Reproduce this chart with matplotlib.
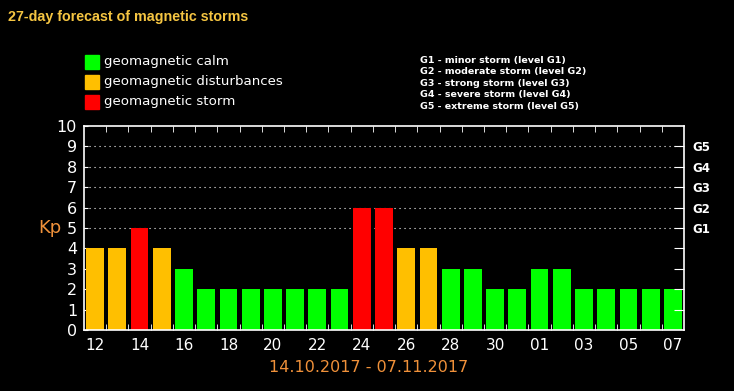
import matplotlib.pyplot as plt

# 27-day Kp forecast, 12.10 - 07.11
days = ["12", "13", "14", "15", "16", "17", "18", "19", "20", "21", "22", "23", "24", "25",
        "26", "27", "28", "29", "30", "31", "01", "02", "03", "04", "05", "06", "07"]
kp = [4, 4, 5, 4, 3, 2, 2, 2, 2, 2, 2, 2, 6, 6, 4, 4, 3, 3, 2, 2, 3, 3, 2, 2, 2, 2, 2]
g_levels = [5, 6, 7, 8, 9]
g_labels = ["G1", "G2", "G3", "G4", "G5"]
legend_labels = ["geomagnetic calm", "geomagnetic disturbances", "geomagnetic storm"]
g_text = ["G1 - minor storm (level G1)", "G2 - moderate storm (level G2)",
          "G3 - strong storm (level G3)", "G4 - severe storm (level G4)",
          "G5 - extreme storm (level G5)"]

GREEN, ORANGE, RED = "#00ff00", "#ffbf00", "#ff0000"


def kp_color(v):
    if v >= 5:
        return RED
    if v == 4:
        return ORANGE
    return GREEN


fig = plt.figure(figsize=(7.34, 3.91), dpi=100, facecolor="black")
ax = fig.add_axes([84 / 734, 61 / 391, 600 / 734, 204 / 391], facecolor="black")

x = list(range(len(days)))
ax.bar(x, kp, width=0.8, color=[kp_color(v) for v in kp], zorder=2)

for lvl in g_levels:
    ax.axhline(lvl, color="white", linestyle=(0, (1, 3.5)), linewidth=0.8, zorder=1)

ax.set_xlim(-0.5, len(days) - 0.5)
ax.set_ylim(0, 10)
for s in ax.spines.values():
    s.set_color("white")
    s.set_linewidth(1.2)

ax.set_xticks(x[::2])
ax.set_xticklabels(days[::2], color="white", fontsize=11)
ax.set_xticks([i + 0.5 for i in x[:-1]], minor=True)
ax.tick_params(axis="x", which="major", length=0, pad=6)
ax.tick_params(axis="x", which="minor", direction="in", length=4, top=True,
               bottom=True, color="white")

ax.set_yticks(range(11))
ax.set_yticklabels([str(i) for i in range(11)], color="white", fontsize=11.5)
ax.tick_params(axis="y", which="major", direction="in", length=3, color="white", pad=5)

ax2 = ax.twinx()
ax2.set_ylim(0, 10)
ax2.set_yticks(range(1, 10))
ax2.set_yticklabels([""] * 4 + g_labels, color="white", fontsize=8.5, fontweight="bold")
ax2.tick_params(axis="y", direction="in", length=7, color="white", pad=6)
for s in ax2.spines.values():
    s.set_visible(False)

fig.text(38 / 734, 1 - 228 / 391, "Kp", color="#f0913a", fontsize=13, va="center")
fig.text(369 / 734, 1 - 368 / 391, "14.10.2017 - 07.11.2017", color="#f0913a",
         fontsize=11.5, ha="center", va="center")
fig.text(8 / 734, 1 - 17 / 391, "27-day forecast of magnetic storms", color="#f5c542",
         fontsize=10.3, fontweight="bold", va="center", family="Liberation Sans")

for i, (lab, c) in enumerate(zip(legend_labels, [GREEN, ORANGE, RED])):
    y = 62 + 20 * i
    fig.patches.append(plt.Rectangle((85 / 734, 1 - (y + 7) / 391), 14 / 734, 14 / 391,
                                     transform=fig.transFigure, color=c))
    fig.text(104 / 734, 1 - y / 391, lab, color="white", fontsize=9.6, va="center")

for i, t in enumerate(g_text):
    fig.text(420 / 734, 1 - (60 + 11.5 * i) / 391, t, color="white", fontsize=6.8,
             fontweight="bold", va="center")

fig.savefig("out.png", dpi=100, facecolor="black")
